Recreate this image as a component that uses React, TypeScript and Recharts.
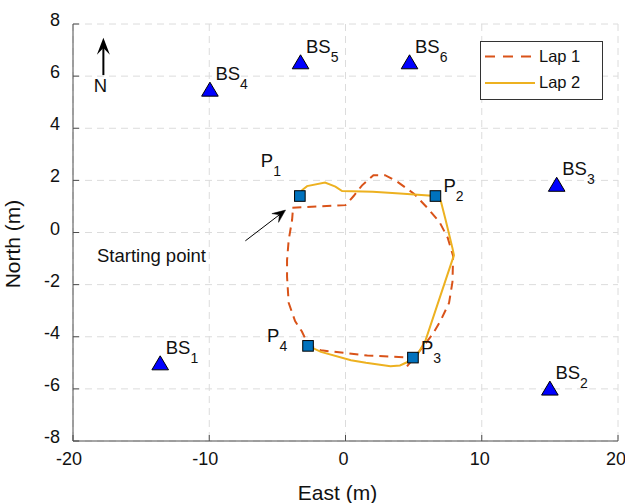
import React from 'react';
import {
  ScatterChart, Scatter, XAxis, YAxis, CartesianGrid, Legend, ReferenceLine, ReferenceDot,
} from 'recharts';

const xTicks = [-20, -10, 0, 10, 20];
const yTicks = [-8, -6, -4, -2, 0, 2, 4, 6, 8];

const lap1 = [
  { x: -3.9, y: 0.95 }, { x: -2.0, y: 1.0 }, { x: 0.0, y: 1.05 }, { x: 0.6, y: 1.4 },
  { x: 1.2, y: 1.8 }, { x: 2.05, y: 2.2 }, { x: 2.9, y: 2.2 }, { x: 3.8, y: 1.95 },
  { x: 5.0, y: 1.5 }, { x: 6.0, y: 0.95 }, { x: 6.9, y: 0.4 }, { x: 7.5, y: -0.2 },
  { x: 7.9, y: -0.9 }, { x: 7.85, y: -1.9 }, { x: 7.6, y: -2.7 }, { x: 7.0, y: -3.36 },
  { x: 6.4, y: -3.9 }, { x: 5.5, y: -4.5 }, { x: 4.5, y: -5.15 }, { x: 4.95, y: -4.8 },
  { x: 1.6, y: -4.72 }, { x: -1.8, y: -4.52 }, { x: -2.7, y: -4.35 }, { x: -3.2, y: -3.8 },
  { x: -3.7, y: -3.4 }, { x: -4.17, y: -2.7 }, { x: -4.29, y: -1.7 }, { x: -4.29, y: -1.06 },
  { x: -4.17, y: -0.29 }, { x: -3.92, y: 0.48 }, { x: -3.85, y: 0.95 },
];

const lap2 = [
  { x: -3.35, y: 1.4 }, { x: -3.18, y: 1.63 }, { x: -2.82, y: 1.78 }, { x: -1.5, y: 1.92 },
  { x: -0.74, y: 1.76 }, { x: -0.25, y: 1.59 }, { x: 2.0, y: 1.56 }, { x: 4.0, y: 1.5 },
  { x: 6.6, y: 1.4 }, { x: 7.0, y: 1.2 }, { x: 7.35, y: 0.48 }, { x: 7.85, y: -0.6 },
  { x: 7.96, y: -0.87 }, { x: 5.88, y: -4.13 }, { x: 5.27, y: -4.69 }, { x: 4.95, y: -4.8 },
  { x: 4.55, y: -4.97 }, { x: 4.0, y: -5.1 }, { x: 3.3, y: -5.13 }, { x: 1.5, y: -5.0 },
  { x: 0.4, y: -4.9 }, { x: -1.8, y: -4.58 }, { x: -2.75, y: -4.35 },
];

const baseStations = [
  { x: -13.6, y: -5.0, name: 'BS', sub: '1' },
  { x: 15.0, y: -5.97, name: 'BS', sub: '2' },
  { x: 15.5, y: 1.85, name: 'BS', sub: '3' },
  { x: -9.95, y: 5.5, name: 'BS', sub: '4' },
  { x: -3.3, y: 6.55, name: 'BS', sub: '5' },
  { x: 4.7, y: 6.55, name: 'BS', sub: '6' },
];

const waypoints = [
  { x: -3.35, y: 1.4, name: 'P', sub: '1' },
  { x: 6.6, y: 1.4, name: 'P', sub: '2' },
  { x: 4.95, y: -4.8, name: 'P', sub: '3' },
  { x: -2.75, y: -4.35, name: 'P', sub: '4' },
];

const seriesNames = ['Lap 1', 'Lap 2'];
const startLabel = 'Starting point';
const startArrow = [{ x: -7.35, y: -0.32 }, { x: -4.4, y: 0.86 }];
const startTextPos = { x: -18.24, y: -1.14 };
const northArrow = [{ x: -17.77, y: 6.04 }, { x: -17.77, y: 7.47 }];
const northLabel = 'N';
const xTitle = 'East (m)';
const yTitle = 'North (m)';

const FONT = '"Liberation Sans", Arial, Helvetica, sans-serif';
const LAP1_COLOR = '#D95319';
const LAP2_COLOR = '#EDB120';
const AXIS_COLOR = '#4d4d4d';
const TEXT_COLOR = '#111';

const labelOffsets: Record<string, { dx: number; dy: number }> = {
  P1: { dx: -39, dy: -29 },
  P2: { dx: 8, dy: -4 },
  P3: { dx: 8, dy: -4 },
  P4: { dx: -41, dy: -4 },
};

const SubLabel = ({ x, y, name, sub }: any) => (
  <text x={x} y={y} fontFamily={FONT} fontSize={18.5} fill={TEXT_COLOR}>
    {name}
    <tspan fontSize={14} dy={9}>{sub}</tspan>
  </text>
);

const TriangleShape = (props: any) => {
  const { cx, cy, payload } = props;
  const h = 7;
  const w = 8.3;
  return (
    <g>
      <polygon
        points={`${cx},${cy - h} ${cx + w},${cy + h} ${cx - w},${cy + h}`}
        fill="#0000FF"
        stroke="#000"
        strokeWidth={1}
      />
      <SubLabel x={cx + 5.5} y={cy - 9} name={payload.name} sub={payload.sub} />
    </g>
  );
};

const SquareShape = (props: any) => {
  const { cx, cy, payload } = props;
  const s = 5.3;
  const off = labelOffsets[payload.name + payload.sub] || { dx: 8, dy: -4 };
  return (
    <g>
      <rect x={cx - s} y={cy - s} width={2 * s} height={2 * s} fill="#0072BD" stroke="#000" strokeWidth={1} />
      <SubLabel x={cx + off.dx} y={cy + off.dy} name={payload.name} sub={payload.sub} />
    </g>
  );
};

const arrowHead = (x1: number, y1: number, x2: number, y2: number, len: number, half: number) => {
  const ang = Math.atan2(y2 - y1, x2 - x1);
  const ux = Math.cos(ang);
  const uy = Math.sin(ang);
  const px = -uy;
  const py = ux;
  const bx = x2 - ux * len;
  const by = y2 - uy * len;
  const nx = x2 - ux * len * 0.6;
  const ny = y2 - uy * len * 0.6;
  return `${x2},${y2} ${bx + px * half},${by + py * half} ${nx},${ny} ${bx - px * half},${by - py * half}`;
};

const StartArrowShape = (props: any) => {
  const { x1, y1, x2, y2 } = props;
  const ang = Math.atan2(y2 - y1, x2 - x1);
  const ex = x2 - Math.cos(ang) * 7;
  const ey = y2 - Math.sin(ang) * 7;
  return (
    <g>
      <line x1={x1} y1={y1} x2={ex} y2={ey} stroke="#000" strokeWidth={1} />
      <polygon points={arrowHead(x1, y1, x2, y2, 13, 5.5)} fill="#000" stroke="#000" strokeWidth={0.5} />
    </g>
  );
};

const NorthArrowShape = (props: any) => {
  const { x1, y1, x2, y2 } = props;
  return (
    <g>
      <line x1={x1} y1={y1} x2={x2} y2={y2 + 8} stroke="#000" strokeWidth={2} />
      <polygon points={arrowHead(x1, y1, x2, y2, 17, 6.5)} fill="#000" />
      <text x={x1 - 3} y={y1 + 17} textAnchor="middle" fontFamily={FONT} fontSize={18.5} fill={TEXT_COLOR}>
        {northLabel}
      </text>
    </g>
  );
};

const StartTextShape = (props: any) => {
  const { cx, cy } = props;
  return (
    <text x={cx} y={cy} fontFamily={FONT} fontSize={18.5} fill={TEXT_COLOR}>
      {startLabel}
    </text>
  );
};

const XTick = (props: any) => {
  const { x, y, payload } = props;
  const v = payload.value;
  return (
    <g>
      <line x1={x} y1={y} x2={x} y2={y - 6} stroke={AXIS_COLOR} strokeWidth={1} />
      <text x={x - (v < 0 ? 4 : 2)} y={y + 24} textAnchor="middle" fontFamily={FONT} fontSize={18} fill={TEXT_COLOR}>
        {v}
      </text>
    </g>
  );
};

const YTick = (props: any) => {
  const { x, y, payload } = props;
  return (
    <g>
      <line x1={x} y1={y} x2={x + 6} y2={y} stroke={AXIS_COLOR} strokeWidth={1} />
      <text x={x - 13} y={y + 2} textAnchor="end" fontFamily={FONT} fontSize={18} fill={TEXT_COLOR}>
        {payload.value}
      </text>
    </g>
  );
};

const XTitle = (props: any) => {
  const { viewBox } = props;
  const cx = viewBox.x + viewBox.width / 2 - 8;
  return (
    <text x={cx} y={500} textAnchor="middle" fontFamily={FONT} fontSize={21} fill={TEXT_COLOR}>
      {xTitle}
    </text>
  );
};

const YTitle = () => (
  <text
    x={0}
    y={0}
    transform="translate(20, 244) rotate(-90)"
    textAnchor="middle"
    fontFamily={FONT}
    fontSize={21}
    fill={TEXT_COLOR}
  >
    {yTitle}
  </text>
);

const LegendBox = () => (
  <svg width={124} height={60} style={{ display: 'block' }}>
    <rect x={0.5} y={0.5} width={122} height={58} fill="#fff" stroke="#333" strokeWidth={1} />
    <line x1={5} y1={15.5} x2={55} y2={15.5} stroke={LAP1_COLOR} strokeWidth={2} strokeDasharray="10 8" />
    <text x={59} y={20.5} fontFamily={FONT} fontSize={16.5} fill={TEXT_COLOR}>{seriesNames[0]}</text>
    <line x1={5} y1={42} x2={55} y2={42} stroke={LAP2_COLOR} strokeWidth={2} />
    <text x={59} y={47} fontFamily={FONT} fontSize={16.5} fill={TEXT_COLOR}>{seriesNames[1]}</text>
  </svg>
);

const Nothing = () => <g />;

export default function App() {
  return (
    <div style={{ position: 'absolute', left: 0, top: 0, width: 625, height: 503, background: '#fff' }}>
      <ScatterChart width={625} height={503} margin={{ top: 24, right: 7, bottom: 0, left: 0 }}>
        <CartesianGrid stroke="#dcdcdc" strokeDasharray="7 5" strokeWidth={1} />
        <XAxis
          type="number"
          dataKey="x"
          domain={[-20, 20]}
          ticks={xTicks}
          interval={0}
          height={62}
          tickSize={0}
          tickMargin={0}
          tickLine={false}
          axisLine={{ stroke: AXIS_COLOR, strokeWidth: 1 }}
          tick={<XTick />}
          label={<XTitle />}
          allowDataOverflow
        />
        <YAxis
          type="number"
          dataKey="y"
          domain={[-8, 8]}
          ticks={yTicks}
          interval={0}
          width={73}
          tickSize={0}
          tickMargin={0}
          tickLine={false}
          axisLine={{ stroke: AXIS_COLOR, strokeWidth: 1 }}
          tick={<YTick />}
          label={<YTitle />}
          allowDataOverflow
        />
        <Legend
          layout="vertical"
          align="center"
          verticalAlign="middle"
          content={() => <LegendBox />}
          wrapperStyle={{ position: 'absolute', left: 480, top: 41, width: 124, height: 60 }}
        />
        <Scatter
          name={seriesNames[0]}
          data={lap1}
          line={{ stroke: LAP1_COLOR, strokeWidth: 2, strokeDasharray: '9 6' }}
          lineType="joint"
          shape={<Nothing />}
          isAnimationActive={false}
        />
        <Scatter
          name={seriesNames[1]}
          data={lap2}
          line={{ stroke: LAP2_COLOR, strokeWidth: 2 }}
          lineType="joint"
          shape={<Nothing />}
          isAnimationActive={false}
        />
        <Scatter data={baseStations} shape={<TriangleShape />} isAnimationActive={false} legendType="none" />
        <Scatter data={waypoints} shape={<SquareShape />} isAnimationActive={false} legendType="none" />
        <ReferenceLine
          segment={startArrow}
          shape={<StartArrowShape />}
          ifOverflow="visible"
        />
        <ReferenceLine
          segment={northArrow}
          shape={<NorthArrowShape />}
          ifOverflow="visible"
        />
        <ReferenceDot
          x={startTextPos.x}
          y={startTextPos.y}
          shape={<StartTextShape />}
          ifOverflow="visible"
        />
      </ScatterChart>
    </div>
  );
}
